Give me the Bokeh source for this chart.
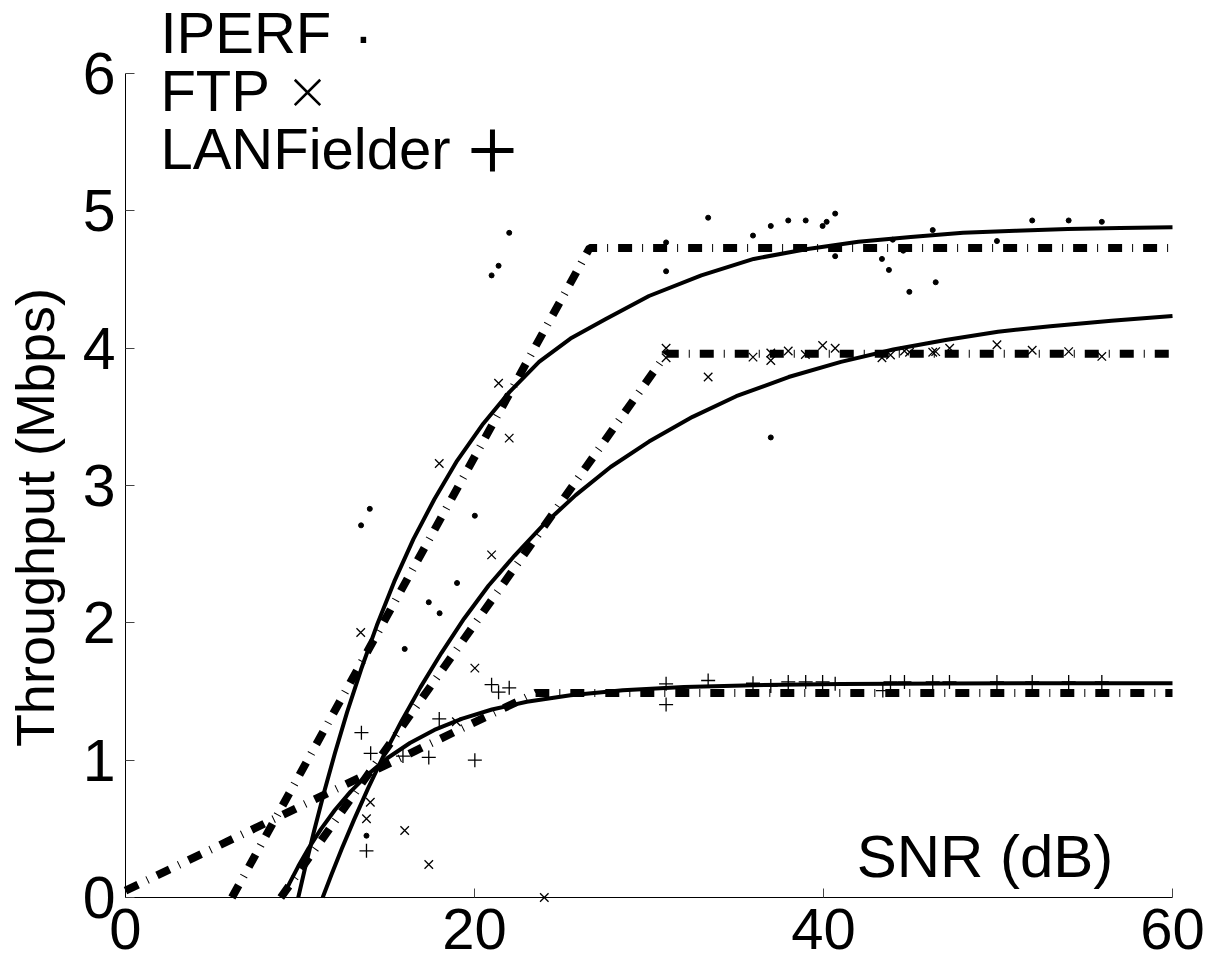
import math
from bokeh.plotting import figure
from bokeh.models import Range1d, FixedTicker, Label
from bokeh.embed import file_html
from bokeh.resources import INLINE

# ---------------- data ----------------
x_ticks = [0, 20, 40, 60]
y_ticks = [0, 1, 2, 3, 4, 5, 6]

# measured points
iperf_x = [21.99, 21.38, 20.98, 30.98, 30.98, 14.0, 13.5, 20.02, 19.0, 17.38,
           18.0, 16.0, 13.81, 33.39, 35.96, 36.98, 37.98, 38.98, 39.95, 40.18,
           40.67, 40.67, 36.98, 43.35, 43.75, 43.97, 44.57, 44.92, 46.26, 46.43,
           49.94, 51.96, 54.05, 55.95]
iperf_y = [4.84, 4.60, 4.53, 4.77, 4.56, 2.83, 2.71, 2.78, 2.29, 2.15,
           2.07, 1.81, 0.45, 4.95, 4.82, 4.89, 4.93, 4.93, 4.89, 4.92,
           4.98, 4.67, 3.35, 4.65, 4.57, 4.79, 4.71, 4.41, 4.86, 4.48,
           4.78, 4.93, 4.93, 4.92]

ftp_x = [21.38, 21.99, 17.98, 20.98, 13.48, 30.98, 30.98, 20.02, 14.03, 13.81,
         16.0, 17.38, 24.0, 18.96, 33.39, 35.96, 36.98, 36.98, 37.98, 38.96,
         39.95, 40.67, 43.35, 43.84, 44.64, 44.93, 46.26, 46.43, 47.23, 49.94,
         51.96, 54.05, 55.95]
ftp_y = [3.745, 3.345, 3.16, 2.495, 1.93, 4.0, 3.93, 1.67, 0.694, 0.573,
         0.488, 0.24, 0.0, 1.28, 3.79, 3.935, 3.965, 3.91, 3.98, 3.954,
         4.02, 4.0, 3.93, 3.95, 3.98, 3.97, 3.97, 3.975, 4.0, 4.025,
         3.985, 3.975, 3.94]

lan_x = [13.52, 14.05, 13.81, 15.9, 17.38, 17.98, 20.02, 20.98, 21.38, 21.99,
         30.98, 30.98, 33.39, 35.96, 36.98, 37.98, 38.98, 39.95, 40.67, 43.4,
         43.84, 44.64, 46.26, 47.22, 49.94, 51.96, 54.05, 55.95]
lan_y = [1.20, 1.05, 0.34, 1.03, 1.02, 1.30, 1.00, 1.55, 1.495, 1.527,
         1.556, 1.405, 1.58, 1.56, 1.54, 1.57, 1.57, 1.57, 1.556, 1.507,
         1.57, 1.57, 1.57, 1.57, 1.57, 1.57, 1.57, 1.57]

# fitted curves (solid)
iperf_fit_x = [9.9, 10.3, 10.8, 11.4, 12.0, 12.7, 13.5, 14.4, 15.4, 16.5, 17.7, 19.0,
               20.5, 22.0, 23.7, 25.5, 27.5, 30, 33, 36, 39, 42, 45, 48, 51, 54, 57, 60]
iperf_fit_y = [0.0, 0.22, 0.48, 0.776, 1.05, 1.35, 1.66, 1.98, 2.30, 2.61, 2.90, 3.18,
               3.45, 3.68, 3.90, 4.07, 4.21, 4.38, 4.53, 4.65, 4.72, 4.775, 4.81, 4.84,
               4.855, 4.868, 4.875, 4.88]

ftp_fit_x = [11.3, 11.8, 12.4, 13.1, 13.9, 14.8, 15.8, 16.9, 18.1, 19.4, 20.8, 22.3,
             24.0, 25.8, 27.8, 30.0, 32.5, 35.0, 38.0, 41.0, 44.0, 47.0, 50.0, 53.0,
             56.5, 60]
ftp_fit_y = [0.0, 0.166, 0.356, 0.567, 0.795, 1.035, 1.28, 1.53, 1.78, 2.03, 2.27, 2.49,
             2.72, 2.93, 3.135, 3.32, 3.50, 3.65, 3.79, 3.90, 3.99, 4.06, 4.12, 4.16,
             4.20, 4.235]

lan_fit_x = [9.0, 9.4, 9.9, 10.5, 11.2, 12.0, 12.9, 13.9, 15.0, 16.3, 17.7, 19.3,
             21.0, 23.0, 25.5, 28.5, 32, 36, 41, 47, 53, 60]
lan_fit_y = [0.0, 0.105, 0.227, 0.36, 0.498, 0.637, 0.771, 0.898, 1.014, 1.125, 1.22,
             1.303, 1.369, 1.425, 1.473, 1.509, 1.532, 1.546, 1.554, 1.558, 1.56, 1.56]

# piecewise-linear (dash-dot) models
iperf_lin_x = [6.1, 26.6, 60]
iperf_lin_y = [0.0, 4.73, 4.73]
ftp_lin_x = [8.9, 31.0, 60]
ftp_lin_y = [0.0, 3.96, 3.96]
lan_lin_x = [0.0, 23.5, 60]
lan_lin_y = [0.05, 1.49, 1.49]

legend_names = ["IPERF", "FTP", "LANFielder"]
legend_name_y = [6.299, 5.876, 5.454]
# legend key glyphs (dot as text, cross / plus as marker keys)
legend_key_x = [10.43, 21.03]
legend_key_y = [5.862, 5.44]

FONT = "Liberation Sans"

# ---------------- figure ----------------
# frame covers the whole canvas; axes are pinned at x=0 / y=0
W, H = 1207, 964
p = figure(width=W, height=H, output_backend="svg", toolbar_location=None,
           x_range=Range1d(-7.163, 62.006), y_range=Range1d(-0.4879, 6.5317))
p.min_border = 0
p.min_border_left = 0
p.min_border_right = 0
p.min_border_top = 0
p.min_border_bottom = 0
p.outline_line_color = None
p.grid.visible = False
p.background_fill_color = "white"
p.border_fill_color = "white"

for ax in (p.xaxis[0], p.yaxis[0]):
    ax.fixed_location = 0
    ax.major_tick_in = 9
    ax.major_tick_out = 0
    ax.minor_tick_line_color = None
    ax.axis_line_color = "black"
    ax.axis_line_width = 1
    ax.major_tick_line_color = "#444444"
    ax.major_label_text_font = FONT
    ax.major_label_text_color = "black"
    ax.major_label_text_font_size = "59px"

p.xaxis.bounds = (0, 60)
p.xaxis.ticker = FixedTicker(ticks=x_ticks)
p.xaxis.major_label_text_font_size = "58px"
p.xaxis.major_label_standoff = 12
p.yaxis.bounds = (0, 6)
p.yaxis.ticker = FixedTicker(ticks=y_ticks)
p.yaxis.major_label_standoff = 10

# dash-dot piecewise lines
DASH = "14 10 1 10"
for xs, ys in ((iperf_lin_x, iperf_lin_y), (ftp_lin_x, ftp_lin_y), (lan_lin_x, lan_lin_y)):
    p.line(xs, ys, line_color="black", line_width=8, line_dash=DASH, line_cap="butt")

# fitted solid curves
for xs, ys in ((iperf_fit_x, iperf_fit_y), (ftp_fit_x, ftp_fit_y), (lan_fit_x, lan_fit_y)):
    p.line(xs, ys, line_color="black", line_width=4, line_join="round")

# measurements
p.scatter(iperf_x, iperf_y, marker="circle", size=5, fill_color="black", line_color="black")
p.scatter(ftp_x, ftp_y, marker="x", size=12, line_color="black", line_width=1.3)
p.scatter(lan_x, lan_y, marker="cross", size=14, line_color="black", line_width=1.3)

def lab(x, y, text, size, align="left", angle=0.0):
    p.add_layout(Label(x=x, y=y, text=text, text_align=align, angle=angle,
                       text_baseline="alphabetic", text_font=FONT,
                       text_font_size=size, text_color="black"))

# axis titles
lab(41.9, 0.30, "SNR (dB)", "60px")
lab(-5.16, 2.767, "Throughput (Mbps)", "54px", align="center", angle=math.pi / 2)

# legend text (above the plot area)
for name, yy in zip(legend_names, legend_name_y):
    lab(2.0, yy, name, "58px")
lab(13.64, 6.277, "\u00b7", "58px", align="center")
p.scatter([legend_key_x[0]], [legend_key_y[0]], marker="x", size=36,
          line_color="black", line_width=2.6)
p.scatter([legend_key_x[1]], [legend_key_y[1]], marker="cross", size=42,
          line_color="black", line_width=5)

open("out.html", "w").write(file_html(p, INLINE))
